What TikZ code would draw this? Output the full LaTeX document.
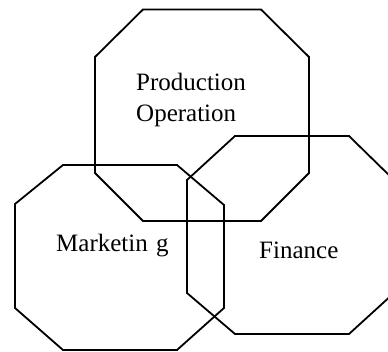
\documentclass[tikz,border=0pt]{standalone}
\usepackage{fontspec}
\setmainfont{Liberation Serif}
\begin{document}
\begin{tikzpicture}[x=1pt,y=-1pt,
  octo/.style={draw=black,line width=1.8pt,line join=miter},
  lbl/.style={anchor=base west,inner sep=0pt,font=\fontsize{25}{31.5}\selectfont,align=left}]
\useasboundingbox (0,0) rectangle (388,352);
\clip (0,0) rectangle (388,352);
% Production octagon
\draw[octo] (143,9.5) -- (261,9.5) -- (309,57) -- (309,173) -- (261,221) -- (143,221) -- (95,173) -- (95,57) -- cycle;
% Marketing octagon
\draw[octo] (63,165) -- (177,165) -- (224,205) -- (224,308) -- (177,350) -- (63,350) -- (15,308) -- (15,204) -- cycle;
% Finance octagon
\draw[octo] (235,136) -- (349,136) -- (394,180) -- (394,293) -- (349,334) -- (235,334) -- (187,293) -- (187,180) -- cycle;
\node[lbl] (prod) at (136,122) {Production\\Operation};
\node[lbl] (mkt) at (56,251.5) {Marketin\hspace{2pt} g};
\node[lbl] (fin) at (259,259) {Finance};
\end{tikzpicture}
\end{document}
